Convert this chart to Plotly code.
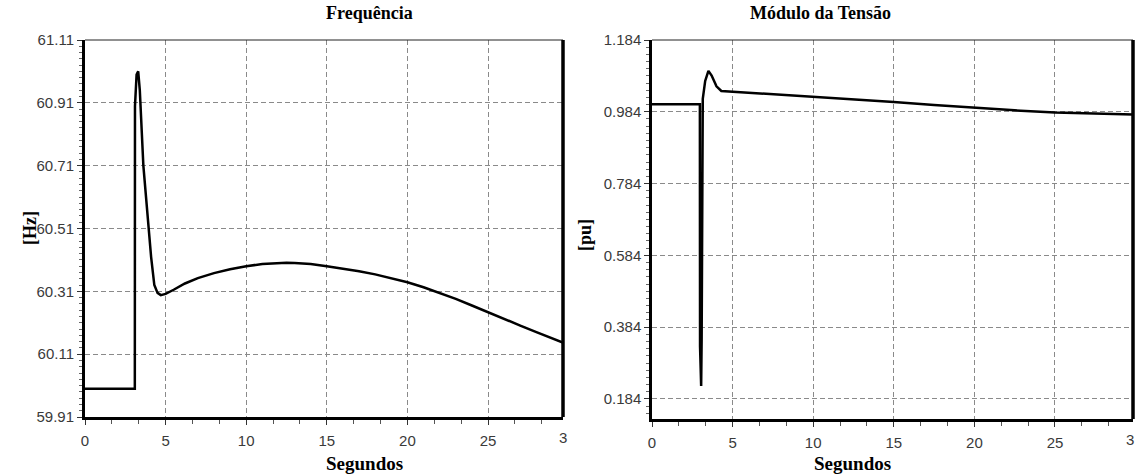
import plotly.graph_objects as go

# ---------------- data ----------------
freq_t = [0, 3.09, 3.10, 3.2, 3.3, 3.4, 3.62, 3.93, 4.1, 4.3, 4.5, 4.7, 5.0, 5.5, 6.2, 7, 8, 9, 10, 11,
          12, 12.5, 13, 14, 15, 16, 17, 18, 19, 20, 21, 22, 23, 24, 25, 26, 27, 28, 29, 30]
freq_hz = [60.0, 60.0, 60.90, 61.0, 61.01, 60.95, 60.71, 60.51, 60.42, 60.33, 60.305, 60.298, 60.302,
           60.315, 60.335, 60.352, 60.368, 60.38, 60.39, 60.397, 60.40, 60.401, 60.40, 60.397,
           60.39, 60.383, 60.374, 60.364, 60.352, 60.339, 60.323, 60.305, 60.286, 60.265, 60.243,
           60.222, 60.201, 60.18, 60.16, 60.14]

volt_t = [0, 2.97, 2.98, 3.05, 3.08, 3.10, 3.15, 3.3, 3.5, 3.7, 4.0, 4.3, 5, 7.5, 10, 12.5, 15, 17.5,
          20, 22.5, 25, 27.5, 30]
volt_pu = [1.005, 1.005, 0.33, 0.22, 0.35, 0.89, 1.02, 1.07, 1.098, 1.085, 1.055, 1.042, 1.040,
           1.034, 1.027, 1.019, 1.011, 1.003, 0.995, 0.988, 0.982, 0.978, 0.976]

freq_ticks = [59.91, 60.11, 60.31, 60.51, 60.71, 60.91, 61.11]
volt_ticks = [0.184, 0.384, 0.584, 0.784, 0.984, 1.184]
x_ticks = [0, 5, 10, 15, 20, 25]

titles = ["Frequência", "Módulo da Tensão"]
y_titles = ["[Hz]", "[pu]"]
x_title = "Segundos"

# ---------------- figure ----------------
W, H = 1136, 474
fig = go.Figure()
fig.add_trace(go.Scatter(x=freq_t, y=freq_hz, mode="lines", xaxis="x", yaxis="y",
                         line=dict(color="black", width=2.5), showlegend=False))
fig.add_trace(go.Scatter(x=volt_t, y=volt_pu, mode="lines", xaxis="x2", yaxis="y2",
                         line=dict(color="black", width=2.5), showlegend=False))

tick_font = dict(family="Liberation Sans, Arial, sans-serif", size=15, color="#3a3a3a")
title_font = dict(family="Liberation Serif, Times New Roman, serif", size=18, color="black")
xt_font = dict(family="Liberation Serif, Times New Roman, serif", size=19, color="black")
GRID_DASH = "5px,3px"

def xaxis(domain, xmax, anchor):
    return dict(domain=domain, range=[0, xmax], anchor=anchor, automargin=False,
                tickvals=x_ticks, ticktext=[str(v) for v in x_ticks],
                ticks="outside", ticklen=5, tickcolor="#333", tickwidth=1,
                ticklabelstandoff=3,
                minor=dict(dtick=5/3, tick0=0, ticks="outside", ticklen=4, tickcolor="#555", showgrid=False),
                showgrid=True, gridcolor="#8a8a8a", griddash=GRID_DASH, gridwidth=1,
                showline=True, linecolor="black", linewidth=3, zeroline=False,
                tickfont=tick_font)

def yaxis(domain, rng, ticks, fmt, anchor, lw):
    return dict(domain=domain, range=rng, anchor=anchor, automargin=False,
                tickvals=ticks, ticktext=[fmt % v for v in ticks],
                ticks="outside", ticklen=5, tickcolor="#333", tickwidth=1,
                minor=dict(dtick=0.02, tick0=ticks[0], ticks="outside", ticklen=3, tickcolor="#666", showgrid=False),
                showgrid=True, gridcolor="#8a8a8a", griddash=GRID_DASH, gridwidth=1,
                showline=True, linecolor="black", linewidth=lw, zeroline=False,
                tickfont=tick_font)

L1, R1 = 85 / W, 563 / W
L2, R2 = 652 / W, 1133 / W
T = 1 - 40 / H
B1 = 1 - 417 / H
B2 = 1 - 419 / H

fig.update_layout(
    width=W, height=H,
    margin=dict(l=0, r=0, t=0, b=0, autoexpand=False),
    paper_bgcolor="white", plot_bgcolor="white",
    xaxis=xaxis([L1, R1], 29.65, "y"),
    yaxis=yaxis([B1, T], [59.91, 61.11], freq_ticks, "%.2f", "x", 3),
    xaxis2=xaxis([L2, R2], 29.84, "y2"),
    yaxis2=yaxis([B2, T], [0.128, 1.184], volt_ticks, "%.3f", "x2", 2.5),
)

# borders: thin top, thick right
for (l, r, b) in [(L1, R1, B1), (L2, R2, B2)]:
    fig.add_shape(type="line", xref="paper", yref="paper", x0=l, x1=r, y0=T, y1=T,
                  line=dict(color="#222", width=1))
    fig.add_shape(type="line", xref="paper", yref="paper", x0=r, x1=r, y0=b, y1=T,
                  line=dict(color="black", width=3.5))

# clipped "30" tick labels
for xpx, ypx in [(568.6, 437), (1135.6, 439)]:
    fig.add_annotation(text="3", x=xpx / W, xref="paper", y=1 - ypx / H, yref="paper",
                       yanchor="middle", xanchor="right", showarrow=False, font=tick_font)

# titles
for i, (l, r) in enumerate([(L1, R1), (L2, R2)]):
    fig.add_annotation(text="<b>%s</b>" % titles[i], x=(l + r) / 2, xref="paper",
                       y=1 - 13 / H, yref="paper", yanchor="middle", showarrow=False,
                       font=title_font)
    fig.add_annotation(text="<b>%s</b>" % x_title, x=(l + r) / 2, xref="paper",
                       y=1 - 463 / H, yref="paper", yanchor="middle", showarrow=False,
                       font=xt_font)

fig.add_annotation(text="<b>%s</b>" % y_titles[0], x=18 / W, y=1 - 228 / H, xref="paper",
                   yref="paper", textangle=-90, showarrow=False, font=title_font)
fig.add_annotation(text="<b>%s</b>" % y_titles[1], x=585 / W, y=1 - 235 / H, xref="paper",
                   yref="paper", textangle=-90, showarrow=False, font=title_font)

fig.write_html("out.html")
